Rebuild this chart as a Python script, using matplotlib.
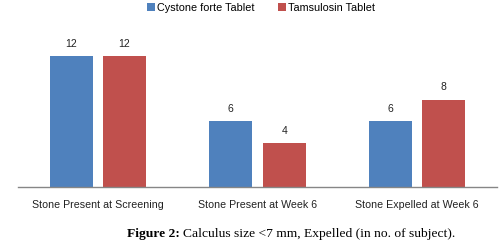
import matplotlib
matplotlib.use('Agg')
import matplotlib.pyplot as plt
import numpy as np

plt.rcParams['font.family'] = ['Liberation Sans', 'DejaVu Sans']

categories = ['Stone Present at Screening', 'Stone Present at Week 6', 'Stone Expelled at Week 6']
series_names = ['Cystone forte Tablet', 'Tamsulosin Tablet']
cystone = [12, 6, 6]
tamsulosin = [12, 4, 8]

BLUE = '#4F81BD'
RED = '#C0504D'

fig = plt.figure(figsize=(5.02, 2.53), dpi=100)
ax = fig.add_axes([18 / 502, 65 / 253, 479 / 502, 153 / 253])

x = np.arange(len(categories))
w = 0.27
off = 0.167
b1 = ax.bar(x - off, cystone, w, color=BLUE, label=series_names[0])
b2 = ax.bar(x + off, tamsulosin, w, color=RED, label=series_names[1])

for bars, vals in [(b1, cystone), (b2, tamsulosin)]:
    for r, v in zip(bars, vals):
        ax.text(r.get_x() + r.get_width() / 2, v + 0.75, str(v),
                ha='center', va='bottom', fontsize=7.5, color='#222222')

ax.set_xlim(-0.5, 2.5)
ax.set_ylim(0, 14)
ax.set_xticks(x)
ax.set_xticklabels(categories, fontsize=7.7, color='#222222')
ax.tick_params(axis='x', length=0, pad=9)
ax.set_yticks([])
for s in ['top', 'right', 'left']:
    ax.spines[s].set_visible(False)
ax.spines['bottom'].set_color('#868686')
ax.spines['bottom'].set_linewidth(1.0)

fig.legend(loc='upper center', bbox_to_anchor=(0.52, 1.025), ncol=2, frameon=False,
           fontsize=7.8, handlelength=0.75, handleheight=0.75, handletextpad=0.2,
           columnspacing=2.2)

# caption: bold "Figure 2:" followed by regular text
t1 = fig.text(127 / 502, 1 - 234 / 253, 'Figure 2:', fontsize=9.7, fontweight='bold',
              family='Liberation Serif', va='center', ha='left')
fig.canvas.draw()
bb = t1.get_window_extent()
fig.text(bb.x1 / fig.bbox.width + 3 / 502, 1 - 234 / 253,
         'Calculus size <7 mm, Expelled (in no. of subject).',
         fontsize=9.7, family='Liberation Serif', va='center', ha='left')

fig.savefig('out.png', dpi=100)
